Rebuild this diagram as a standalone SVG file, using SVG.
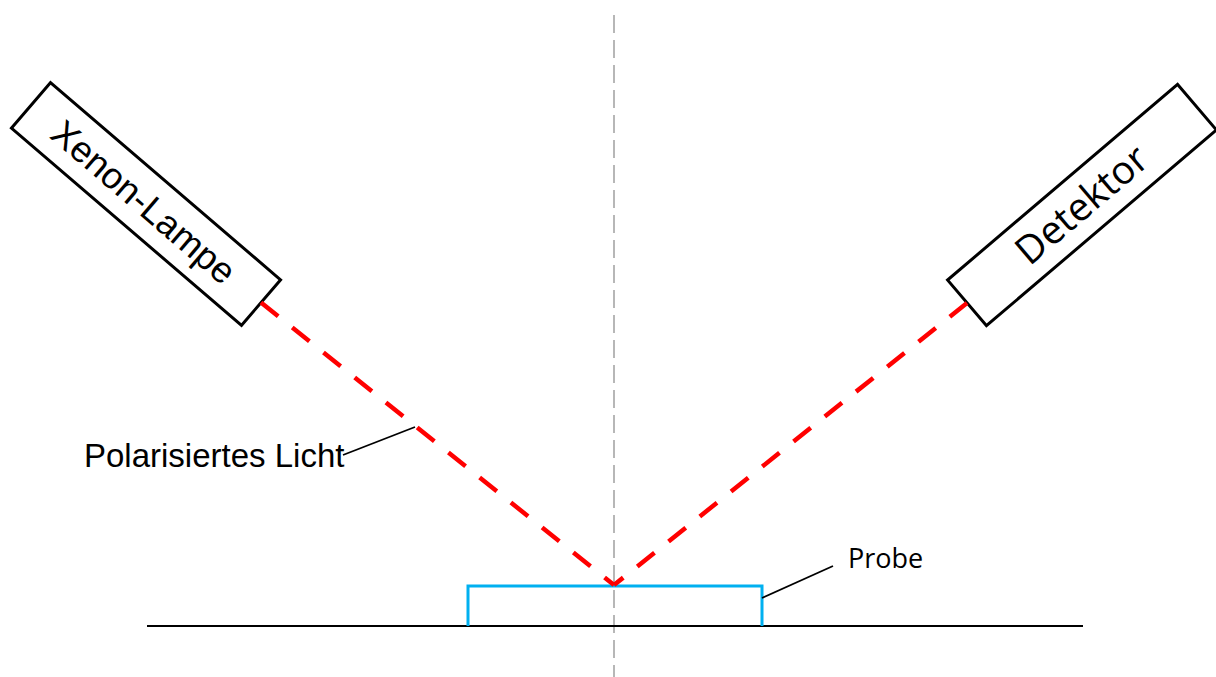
<svg xmlns="http://www.w3.org/2000/svg" width="1216" height="677" viewBox="0 0 1216 677">
<style>
.box{fill:#fff;stroke:#000;stroke-width:3}
.beam{fill:none;stroke:#FF0000;stroke-width:4.5;stroke-dasharray:22 18}
.lead{fill:none;stroke:#000;stroke-width:1.8}
.axis{fill:none;stroke:#A6A6A6;stroke-width:1.6;stroke-dasharray:18 7}
.t1{font-family:"Liberation Sans",Arial,sans-serif;fill:#000}
.t2{font-family:"Open Sans","Liberation Sans",sans-serif;fill:#000}
</style>
<rect width="1216" height="677" fill="#fff"/>
<g id="axis"><line class="axis" x1="614" y1="15" x2="614" y2="677"/></g>
<g id="base"><line x1="147" y1="626" x2="1083" y2="626" stroke="#000" stroke-width="2"/></g>
<g id="probe">
<polyline points="468,626 468,586 762,586 762,626" fill="none" stroke="#00B0F0" stroke-width="3"/>
<text class="t2" x="848" y="568" font-size="27">Probe</text>
</g>
<g id="lamp" transform="translate(146,204) rotate(40.6)">
<rect class="box" x="-151.5" y="-30" width="303" height="60"/>
<text class="t1" x="-3" y="12.5" font-size="36.5" text-anchor="middle">Xenon-Lampe</text>
</g>
<g id="detector" transform="translate(1082,205) rotate(-40.4)">
<rect class="box" x="-151" y="-30" width="302" height="60"/>
<text class="t2" x="0" y="13" font-size="39" text-anchor="middle">Detektor</text>
</g>
<g id="label-light">
<text class="t1" x="84" y="467" font-size="33">Polarisiertes Licht</text>
</g>
<g id="connectors">
<line class="beam" x1="261" y1="302.6" x2="614" y2="585"/>
<line class="beam" x1="967" y1="303" x2="614" y2="585"/>
<line class="lead" x1="343" y1="455" x2="415" y2="427"/>
<line class="lead" x1="762" y1="598" x2="833" y2="566"/>
</g>
</svg>
